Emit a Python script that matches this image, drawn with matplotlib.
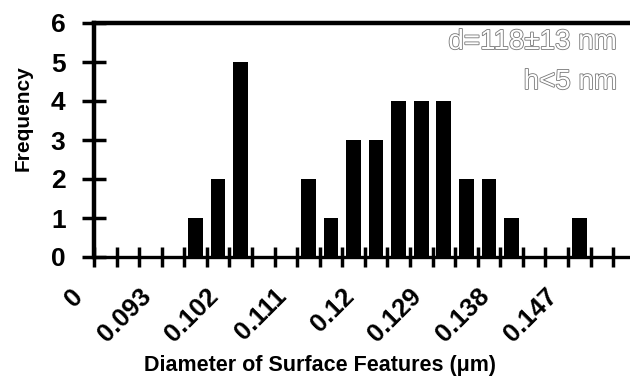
import matplotlib
matplotlib.use("Agg")
import matplotlib.pyplot as plt
import matplotlib.patheffects as pe
from matplotlib.transforms import ScaledTranslation

# Data: histogram bins (each 0.003 um wide), frequency per bin
bin_index = list(range(25))
frequency = [0, 0, 0, 0, 1, 2, 5, 0, 0, 2, 1, 3, 3, 4, 4, 4, 2, 2, 1, 0, 0, 1, 0, 0, 0]
label_ticks = [0, 3, 6, 9, 12, 15, 18, 21]
tick_labels = ["0", "0.093", "0.102", "0.111", "0.12", "0.129", "0.138", "0.147"]
y_ticks = [0, 1, 2, 3, 4, 5, 6]
annotations = ["d=118±13 nm", "h<5 nm"]

W, H = 630, 389
fig = plt.figure(figsize=(W / 100, H / 100), dpi=100)
plt.rcParams['font.family'] = ['Liberation Sans', 'DejaVu Sans']

px_per_unit = 22.57
n_units = 25
left_px, top_px, bottom_px = 94, 23, 257
ax = fig.add_axes([left_px / W, 1 - bottom_px / H,
                   n_units * px_per_unit / W, (bottom_px - top_px) / H])

ax.bar([i + 0.5 for i in bin_index], frequency, width=0.65, color='black')
ax.set_xlim(0, n_units)
ax.set_ylim(0, 6)

for s in ['top', 'left']:
    ax.spines[s].set_linewidth(3.2)
ax.spines['bottom'].set_linewidth(2.4)
ax.spines['right'].set_visible(False)

ax.set_xticks(range(0, n_units + 1))
lab = []
for i in range(0, n_units + 1):
    lab.append(tick_labels[label_ticks.index(i)] if i in label_ticks else "")
ax.set_xticklabels(lab, rotation=45, ha='right', va='top',
                   fontsize=18.5, fontweight='bold')
ax.tick_params(axis='x', direction='inout', length=15, width=2.5, pad=12)
off = ScaledTranslation(-0.06, 0, fig.dpi_scale_trans)
for t in ax.get_xticklabels():
    t.set_transform(t.get_transform() + off)

ax.set_yticks(y_ticks)
ax.set_yticklabels([str(v) for v in y_ticks], fontsize=19, fontweight='bold')
ax.tick_params(axis='y', direction='inout', length=17, width=2.5, pad=12)
for s in ax.spines.values():
    s.set_clip_on(False)

fig.text(0.508, 1 - 365 / H, "Diameter of Surface Features (\u03bcm)",
         ha='center', va='center', fontsize=15.5, fontweight='bold')
fig.text(0.036, 1 - 118 / H, "Frequency", rotation=90,
         ha='center', va='center', fontsize=15, fontweight='bold')

for txt, yc in zip(annotations, [42, 82]):
    fig.text(617 / W, 1 - yc / H, txt, ha='right', va='center', fontsize=20,
             color='white',
             path_effects=[pe.Stroke(linewidth=1.2, foreground='#777777'), pe.Normal()])

fig.savefig("out.png", dpi=100)
